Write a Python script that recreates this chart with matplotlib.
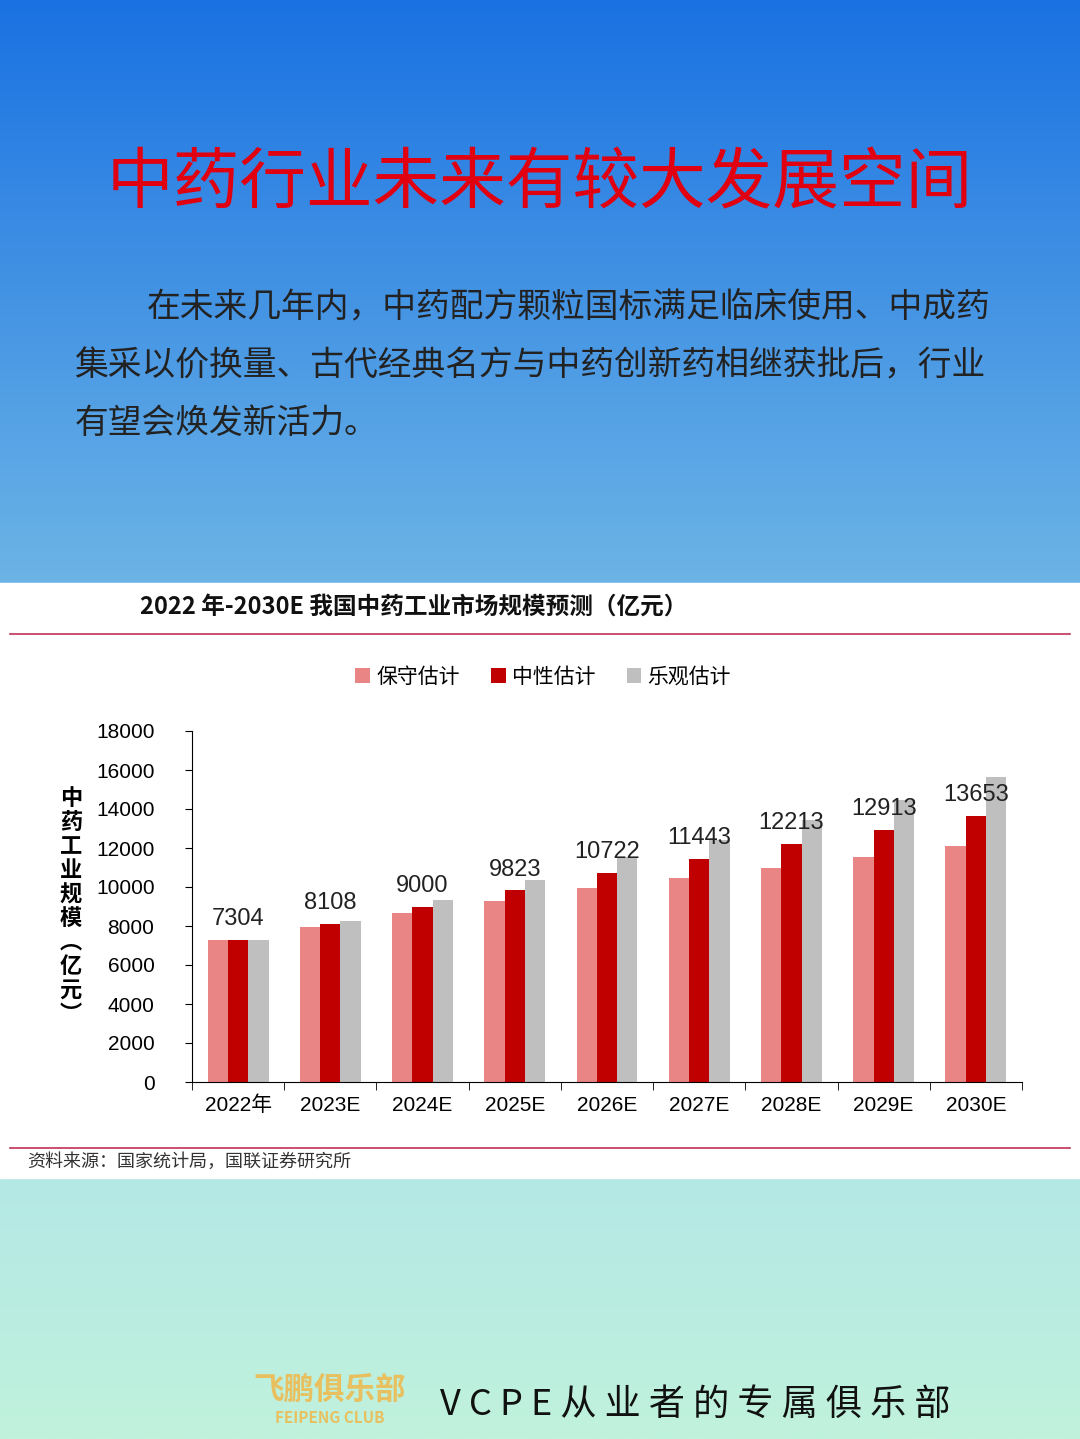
import matplotlib.pyplot as plt
import numpy as np

plt.rcParams['font.family'] = ['Noto Sans CJK SC', 'DejaVu Sans']

years = ['2022年', '2023E', '2024E', '2025E', '2026E', '2027E', '2028E', '2029E', '2030E']
conservative = [7304, 7950, 8670, 9280, 9950, 10460, 10970, 11540, 12100]
neutral = [7304, 8108, 9000, 9823, 10722, 11443, 12213, 12913, 13653]
optimistic = [7304, 8260, 9330, 10360, 11540, 12400, 13440, 14460, 15640]
series_names = ['保守估计', '中性估计', '乐观估计']
colors = ['#e98585', '#c00000', '#bfbfbf']

W, H = 1080, 1439
fig = plt.figure(figsize=(W / 100, H / 100), dpi=100)

# background: blue gradient top, white panel, mint gradient bottom
bg = fig.add_axes([0, 0, 1, 1], zorder=-10)
bg.axis('off')
top = np.linspace(0, 1, 200)[:, None]
blue = np.array([0x1a, 0x72, 0xe2]) / 255 * (1 - top[..., None]) + np.array([0x6c, 0xb4, 0xe6]) / 255 * top[..., None]
bg.imshow(np.repeat(blue, 2, axis=1), extent=[0, W, 583, 0], aspect='auto')
bg.add_patch(plt.Rectangle((0, 583), W, 595, color='white'))
mint = np.array([0xb4, 0xe8, 0xe6]) / 255 * (1 - top[..., None]) + np.array([0xc0, 0xf2, 0xdc]) / 255 * top[..., None]
bg.imshow(np.repeat(mint, 2, axis=1), extent=[0, W, H, 1178], aspect='auto')
bg.set_xlim(0, W)
bg.set_ylim(H, 0)

bg.text(540, 185, '中药行业未来有较大发展空间', color='#e00010', fontsize=48,
        ha='center', va='center')
para = ['在未来几年内，中药配方颗粒国标满足临床使用、中成药',
        '集采以价换量、古代经典名方与中药创新药相继获批后，行业',
        '有望会焕发新活力。']
bg.text(147, 308, para[0], fontsize=24.3, color='#222222', va='center')
bg.text(75, 366, para[1], fontsize=24.3, color='#222222', va='center')
bg.text(75, 424, para[2], fontsize=24.3, color='#222222', va='center')

bg.text(140, 607, '2022 年-2030E 我国中药工业市场规模预测（亿元）', fontsize=17,
        fontweight='bold', color='#111111', va='center')
bg.plot([10, 1070], [634, 634], color='#c0305a', lw=1.2)
bg.plot([10, 1070], [1148, 1148], color='#c0305a', lw=1.2)
bg.text(27, 1162, '资料来源：国家统计局，国联证券研究所', fontsize=13, color='#333333', va='center')
bg.text(440, 1405, 'V C P E 从 业 者 的 专 属 俱 乐 部', fontsize=26, color='#111111', va='center')
bg.text(330, 1390, '飞鹏俱乐部', fontsize=22, color='#e8c060', ha='center', va='center',
        fontweight='bold', style='italic')
bg.text(330, 1418, 'FEIPENG CLUB', fontsize=11, color='#e8c060', ha='center', va='center',
        fontweight='bold')

ax = fig.add_axes([192 / W, 1 - 1082 / H, 830 / W, 351 / H])
x = np.arange(len(years))
w = 0.22
for i, (vals, name) in enumerate(zip([conservative, neutral, optimistic], series_names)):
    ax.bar(x + (i - 1) * w, vals, w, color=colors[i], label=name)
for xi, v in zip(x, neutral):
    ax.text(xi, v + 500, str(v), ha='center', va='bottom', fontsize=17, color='#222222',
            family='Liberation Sans')
ax.set_ylim(0, 18000)
ax.set_xlim(-0.5, len(years) - 0.5)
ax.set_yticks(range(0, 18001, 2000))
ax.set_xticks(x)
ax.set_xticklabels(years, fontsize=15)
for lab in ax.get_yticklabels():
    lab.set_family(['Liberation Sans', 'Noto Sans CJK SC'])
for lab in ax.get_xticklabels():
    lab.set_family(['Liberation Sans', 'Noto Sans CJK SC'])
ax.tick_params(axis='y', labelsize=15, direction='out', pad=22, length=5)
ax.tick_params(axis='x', length=0, pad=10)
ax.set_xticks(np.arange(-0.5, len(years)), minor=True)
ax.tick_params(axis='x', which='minor', length=6)
for s in ['top', 'right']:
    ax.spines[s].set_visible(False)
ax.set_ylabel('中\n药\n工\n业\n规\n模\n︵\n亿\n元\n︶', rotation=0, fontsize=16,
              fontweight='bold', va='center', labelpad=18, linespacing=1.05)
ax.legend(loc='upper center', bbox_to_anchor=(0.423, 1.24), ncol=3, frameon=False,
          fontsize=15, handlelength=0.7, handleheight=0.7, columnspacing=1.5, handletextpad=0.3)

fig.savefig('out.png', dpi=100)
